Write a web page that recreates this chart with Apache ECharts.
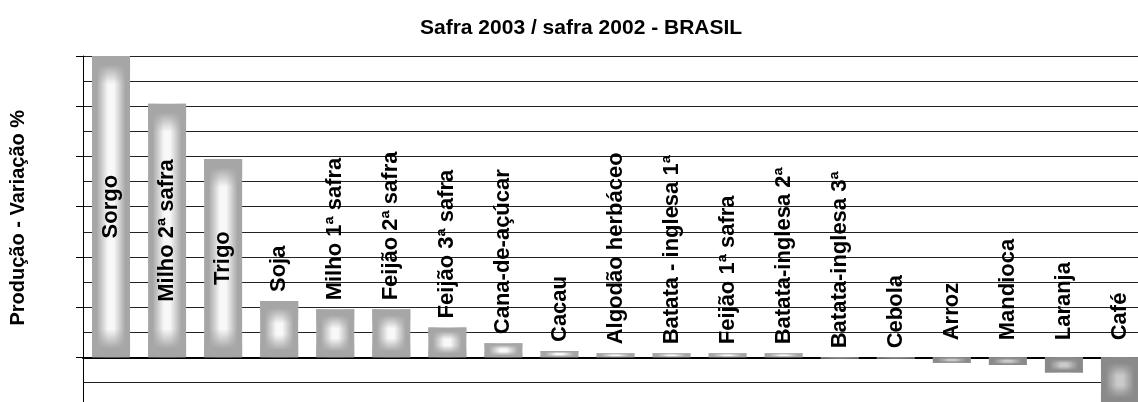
<!DOCTYPE html>
<html>
<head>
<meta charset="utf-8">
<title>Safra 2003 / safra 2002 - BRASIL</title>
<script src="https://cdn.jsdelivr.net/npm/echarts@6/dist/echarts.min.js"></script>
<style>
  html, body { margin: 0; padding: 0; background: #fff; }
  #chart { width: 1138px; height: 402px; }
</style>
</head>
<body>
<div id="chart"></div>
<script>
// culturas (eixo x)
var culturas = ['Sorgo', 'Milho 2ª safra', 'Trigo', 'Soja', 'Milho 1ª safra', 'Feijão 2ª safra',
  'Feijão 3ª safra', 'Cana-de-açúcar', 'Cacau', 'Algodão herbáceo', 'Batata - inglesa 1ª',
  'Feijão 1ª safra', 'Batata-inglesa 2ª', 'Batata-inglesa 3ª', 'Cebola', 'Arroz', 'Mandioca',
  'Laranja', 'Café']
// produção - variação %
var variacao = [120, 101, 79, 22.4, 19.1, 19.1, 11.9, 5.6, 2.5, 1.6, 1.6, 1.6, 1.6,
  -0.5, -0.5, -2.2, -3.1, -6.1, -18.5]
// eixo y
var yMin = -20
var yMax = 120
var yStep = 20

var FONT = "'Liberation Sans', Arial, sans-serif"

// degradê horizontal (claro no centro)
function baseColor (v) {
  var edge = v < 0 ? '#8a8a8a' : '#a6a6a6'
  var mid = v < 0 ? '#cacaca' : '#f8f8f8'
  return new echarts.graphic.LinearGradient(0, 0, 1, 0, [
    { offset: 0, color: edge },
    { offset: 0.12, color: edge },
    { offset: 0.42, color: mid },
    { offset: 0.58, color: mid },
    { offset: 0.88, color: edge },
    { offset: 1, color: edge }
  ])
}

// escurece topo e base, para o efeito "do centro"
function shadeColor (v) {
  var f = Math.min(0.5, 14 / Math.abs(v))
  var c = v < 0 ? '138,138,138' : '166,166,166'
  var on = 'rgba(' + c + ',1)'
  var off = 'rgba(' + c + ',0)'
  return new echarts.graphic.LinearGradient(0, 0, 0, 1, [
    { offset: 0, color: on },
    { offset: f * 0.25, color: on },
    { offset: f * 0.8, color: off },
    { offset: 1 - f * 0.8, color: off },
    { offset: 1 - f * 0.25, color: on },
    { offset: 1, color: on }
  ])
}

function labelFor (v) {
  if (v > 50) {
    return { position: 'inside', align: 'center', verticalAlign: 'middle' }
  }
  return { position: 'top', distance: v < -1 ? 17 : 9, align: 'left', verticalAlign: 'middle' }
}

var chart = echarts.init(document.getElementById('chart'))

var option = {
  backgroundColor: '#fff',
  animation: false,
  title: {
    text: 'Safra 2003 / safra 2002 - BRASIL',
    left: 420,
    top: 18,
    padding: 0,
    textStyle: { fontFamily: FONT, fontSize: 21, fontWeight: 'bold', color: '#000' }
  },
  grid: {
    left: 83,
    right: -10,
    top: 56,
    bottom: -5.5,
    containLabel: false,
    outerBoundsMode: 'none'
  },
  xAxis: {
    type: 'category',
    data: culturas,
    axisLine: { onZero: true, lineStyle: { color: '#000', width: 2 } },
    axisTick: { show: false },
    axisLabel: { show: false },
    splitLine: { show: false }
  },
  yAxis: {
    type: 'value',
    min: yMin,
    max: yMax,
    interval: yStep,
    name: 'Produção - Variação %',
    nameLocation: 'middle',
    nameRotate: 90,
    nameGap: 55,
    nameTextStyle: {
      fontFamily: FONT, fontSize: 20, fontWeight: 'bold', color: '#000',
      padding: [0, 0, 0, 28]
    },
    axisLine: { show: true, lineStyle: { color: '#000', width: 1 } },
    axisTick: { show: true, length: 7, lineStyle: { color: '#000' } },
    axisLabel: { show: false },
    splitLine: { show: true, lineStyle: { color: '#222', width: 1 } },
    minorTick: { show: false, splitNumber: 2 },
    minorSplitLine: { show: true, lineStyle: { color: '#222', width: 1 } }
  },
  series: [
    {
      type: 'bar',
      barWidth: 38,
      clip: false,
      data: variacao,
      itemStyle: {
        color: function (p) { return baseColor(p.value) }
      }
    },
    {
      // camada de sombreamento + rótulos
      type: 'bar',
      barWidth: 38,
      barGap: '-100%',
      clip: false,
      silent: true,
      data: variacao.map(function (v) {
        return { value: v, label: labelFor(v) }
      }),
      itemStyle: {
        color: function (p) { return shadeColor(p.value) }
      },
      label: {
        show: true,
        rotate: 90,
        formatter: function (p) { return culturas[p.dataIndex] },
        fontFamily: FONT,
        fontSize: 22,
        fontWeight: 'bold',
        color: '#000',
        textBorderWidth: 0
      }
    }
  ]
}

chart.setOption(option)
</script>
</body>
</html>
